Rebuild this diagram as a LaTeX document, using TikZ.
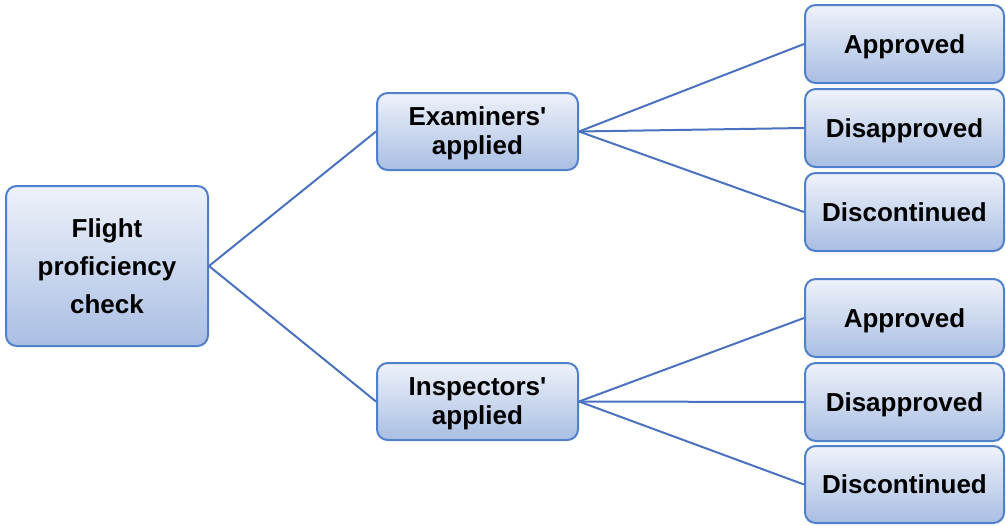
\documentclass[tikz,border=0pt]{standalone}
\usepackage{fontspec}
\setmainfont{Liberation Sans}
\newcommand{\lowr}[1]{\raisebox{-2.2pt}[\height][\depth]{#1}}
\begin{document}
\begin{tikzpicture}[x=0.75pt,y=-0.75pt,
  box/.style={draw=boxline, line width=1.5pt, rounded corners=8pt,
    top color=boxtop, bottom color=boxbot, align=center,
    font=\fontsize{19.5}{22}\selectfont\bfseries, inner sep=0pt},
  conn/.style={draw=connline, line width=1.5pt}]
\definecolor{boxline}{HTML}{5080CC}
\definecolor{boxtop}{HTML}{EEF2FA}
\definecolor{boxbot}{HTML}{A9BEE3}
\definecolor{connline}{HTML}{4A72C0}
\useasboundingbox (0,0) rectangle (1006,525);
\node[box, minimum width=202*0.75pt, minimum height=160*0.75pt, font=\fontsize{19.5}{28.5}\selectfont\bfseries] (fp) at (107,266) {Flight\\proficiency\\check};
\node[box, minimum width=201*0.75pt, minimum height=77*0.75pt] (ex) at (477.5,131.5) {\lowr{\begin{tabular}{@{}c@{}}Examiners\textquotesingle\\applied\end{tabular}}};
\node[box, minimum width=201*0.75pt, minimum height=77*0.75pt] (in) at (477.5,401.5) {\lowr{\begin{tabular}{@{}c@{}}Inspectors\textquotesingle\\applied\end{tabular}}};
\node[box, minimum width=199*0.75pt, minimum height=78*0.75pt] (a1) at (904.5,44) {\lowr{Approved}};
\node[box, minimum width=199*0.75pt, minimum height=78*0.75pt] (d1) at (904.5,128) {\lowr{Disapproved}};
\node[box, minimum width=199*0.75pt, minimum height=78*0.75pt] (c1) at (904.5,212) {Discontinued};
\node[box, minimum width=199*0.75pt, minimum height=78*0.75pt] (a2) at (904.5,318) {\lowr{Approved}};
\node[box, minimum width=199*0.75pt, minimum height=78*0.75pt] (d2) at (904.5,402) {\lowr{Disapproved}};
\node[box, minimum width=199*0.75pt, minimum height=77*0.75pt] (c2) at (904.5,484.5) {Discontinued};
\draw[conn] (fp.east) -- (ex.west);
\draw[conn] (fp.east) -- (in.west);
\draw[conn] (ex.east) -- (a1.west);
\draw[conn] (ex.east) -- (d1.west);
\draw[conn] (ex.east) -- (c1.west);
\draw[conn] (in.east) -- (a2.west);
\draw[conn] (in.east) -- (d2.west);
\draw[conn] (in.east) -- (c2.west);
\end{tikzpicture}
\end{document}
